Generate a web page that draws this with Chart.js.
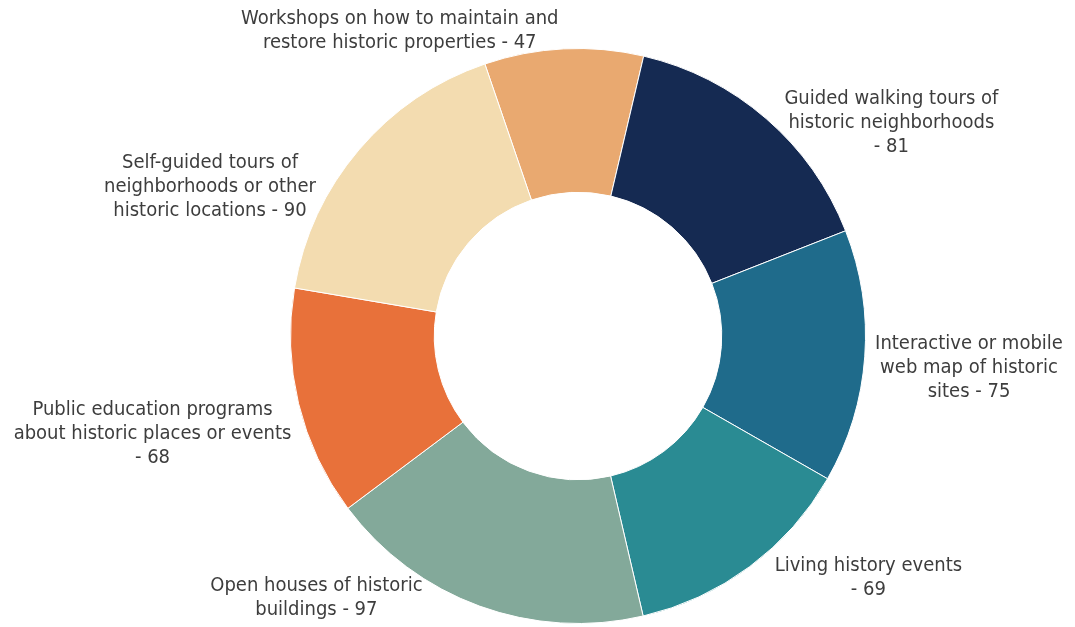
<!DOCTYPE html>
<html>
<head>
<meta charset="utf-8">
<script src="https://cdn.jsdelivr.net/npm/chart.js@4/dist/chart.umd.min.js"></script>
<style>
  html, body { margin: 0; padding: 0; background: #ffffff; }
  #wrap { width: 1075px; height: 627px; }
</style>
</head>
<body>
<div id="wrap"><canvas id="chDonut"></canvas></div>
<script>
// chart data
var categories = [
	'Workshops on how to maintain and restore historic properties',
	'Guided walking tours of historic neighborhoods',
	'Interactive or mobile web map of historic sites',
	'Living history events',
	'Open houses of historic buildings',
	'Public education programs about historic places or events',
	'Self-guided tours of neighborhoods or other historic locations'
];
var values = [ 47, 81, 75, 69, 97, 68, 90 ];

// label text as wrapped in the picture
var labelLines = [
	[ 'Workshops on how to maintain and', 'restore historic properties - 47' ],
	[ 'Guided walking tours of', 'historic neighborhoods', '- 81' ],
	[ 'Interactive or mobile', 'web map of historic', 'sites - 75' ],
	[ 'Living history events', '- 69' ],
	[ 'Open houses of historic', 'buildings - 97' ],
	[ 'Public education programs', 'about historic places or events', '- 68' ],
	[ 'Self-guided tours of', 'neighborhoods or other', 'historic locations - 90' ]
];

// slice colors
var colors = [ '#e9a970', '#152a52', '#1f6b8b', '#2a8b93', '#83a99a', '#e8713a', '#f3dcb0' ];

// label centres, in units of the outer radius, from the donut centre
var labelSpots = [
	[ -0.62, -1.06 ], [ 1.09, -0.74 ], [ 1.36, 0.11 ], [ 1.01, 0.84 ],
	[ -0.91, 0.91 ], [ -1.48, 0.34 ], [ -1.28, -0.52 ]
];

var outsideLabels = {
	id: 'outsideLabels',
	afterDatasetsDraw: function (chart) {
		var ctx = chart.ctx;
		var meta = chart.getDatasetMeta(0);
		ctx.save();
		ctx.font = '20px "DejaVu Sans Condensed", "DejaVu Sans", sans-serif';
		ctx.fillStyle = '#3d3d3d';
		ctx.textAlign = 'center';
		ctx.textBaseline = 'middle';
		var lh = 24;
		meta.data.forEach(function (arc, i) {
			var r = arc.outerRadius;
			var cx = arc.x + labelSpots[i][0] * r;
			var cy = arc.y + labelSpots[i][1] * r;
			var lines = labelLines[i];
			var top = cy - (lines.length - 1) * lh / 2;
			lines.forEach(function (t, j) {
				ctx.fillText(t, cx, top + j * lh);
			});
		});
		ctx.restore();
	}
};

var chDonut = document.getElementById('chDonut');
if (chDonut) {
	new Chart(chDonut, {
		type: 'doughnut',
		data: {
			labels: categories,
			datasets: [
				{
					backgroundColor: colors,
					borderColor: '#ffffff',
					borderWidth: 1,
					data: values
				}
			]
		},
		options: {
			responsive: true,
			maintainAspectRatio: false,
			animation: false,
			cutout: '50%',
			rotation: -18.9,
			layout: { padding: { left: 81, right: 0, top: 48, bottom: 3 } },
			plugins: {
				legend: { display: false },
				tooltip: { enabled: false }
			}
		},
		plugins: [ outsideLabels ]
	});
}
</script>
</body>
</html>
